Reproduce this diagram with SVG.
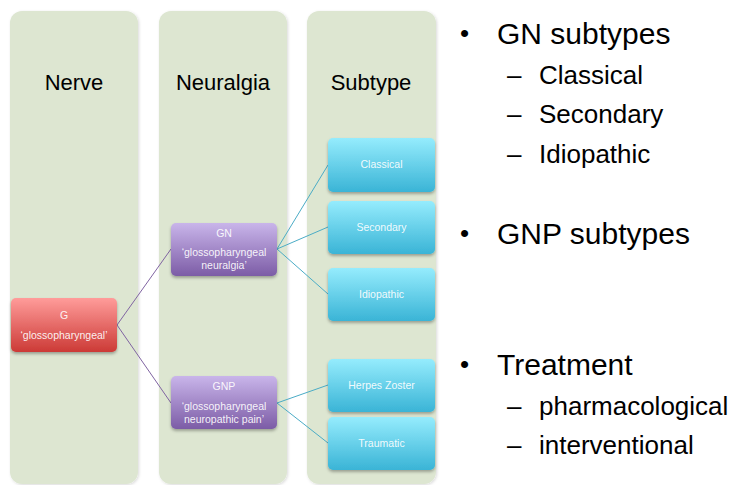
<svg xmlns="http://www.w3.org/2000/svg" width="738" height="485" viewBox="0 0 738 485">
<defs>
<linearGradient id="gRed" x1="0" y1="0" x2="0" y2="1"><stop offset="0" stop-color="#ff9c9a"/><stop offset="1" stop-color="#cc3a36"/></linearGradient>
<linearGradient id="gPur" x1="0" y1="0" x2="0" y2="1"><stop offset="0" stop-color="#c9b5ea"/><stop offset="1" stop-color="#7c5ca6"/></linearGradient>
<linearGradient id="gCyan" x1="0" y1="0" x2="0" y2="1"><stop offset="0" stop-color="#95ecfd"/><stop offset="1" stop-color="#3ab4d6"/></linearGradient>
<filter id="sh" x="-10%" y="-10%" width="130%" height="140%"><feDropShadow dx="0" dy="2" stdDeviation="1.5" flood-color="#000" flood-opacity="0.3"/></filter>
<filter id="csh" x="-5%" y="-5%" width="115%" height="115%"><feDropShadow dx="1" dy="1" stdDeviation="1.5" flood-color="#000" flood-opacity="0.15"/></filter>
</defs>
<style>
.col{fill:#dde6d1;filter:url(#csh)}
.ht{font-family:"Liberation Sans",Arial,sans-serif;font-size:22px;fill:#000;text-anchor:middle}
.box{filter:url(#sh)}
.lb{font-family:"Liberation Sans",Arial,sans-serif;font-size:10.5px;fill:#fff;fill-opacity:0.92;text-anchor:middle}
.cp{stroke:#8064a2;stroke-width:1;fill:none}
.cc{stroke:#4bacc6;stroke-width:1;fill:none}
.b1{font-family:"Liberation Sans",Arial,sans-serif;font-size:30px;fill:#000}
.b2{font-family:"Liberation Sans",Arial,sans-serif;font-size:26px;fill:#000}
.dot{font-family:"Liberation Sans",Arial,sans-serif;font-size:26px;fill:#000}
</style>
<rect width="738" height="485" fill="#fff"/>
<g id="columns">
<g id="col-nerve"><rect class="col" x="10" y="11" width="128" height="473" rx="12"/><text class="ht" x="74" y="90">Nerve</text></g>
<g id="col-neuralgia"><rect class="col" x="159" y="11" width="128" height="473" rx="12"/><text class="ht" x="223" y="90">Neuralgia</text></g>
<g id="col-subtype"><rect class="col" x="307" y="11" width="129" height="473" rx="12"/><text class="ht" x="371" y="90">Subtype</text></g>
</g>
<g id="connectors">
<path class="cp" d="M117 325 L171 249"/>
<path class="cp" d="M117 325 L171 403"/>
<path class="cc" d="M277 249 L328 165"/>
<path class="cc" d="M277 249 L328 227"/>
<path class="cc" d="M277 249 L328 294"/>
<path class="cc" d="M277 403 L328 385"/>
<path class="cc" d="M277 403 L328 443"/>
</g>
<g id="node-g"><rect class="box" x="11" y="298" width="106" height="54" rx="5" fill="url(#gRed)"/><text class="lb" x="64" y="319">G</text><text class="lb" x="64" y="339">‘glossopharyngeal’</text></g>
<g id="node-gn"><rect class="box" x="171" y="223" width="106" height="53" rx="5" fill="url(#gPur)"/><text class="lb" x="224" y="237">GN</text><text class="lb" x="224" y="256">‘glossopharyngeal</text><text class="lb" x="224" y="269">neuralgia’</text></g>
<g id="node-gnp"><rect class="box" x="171" y="376" width="106" height="53" rx="5" fill="url(#gPur)"/><text class="lb" x="224" y="390">GNP</text><text class="lb" x="224" y="410">‘glossopharyngeal</text><text class="lb" x="224" y="423">neuropathic pain’</text></g>
<g id="node-classical"><rect class="box" x="328" y="138" width="107" height="54" rx="5" fill="url(#gCyan)"/><text class="lb" x="381.5" y="168">Classical</text></g>
<g id="node-secondary"><rect class="box" x="328" y="201" width="107" height="53" rx="5" fill="url(#gCyan)"/><text class="lb" x="381.5" y="231">Secondary</text></g>
<g id="node-idiopathic"><rect class="box" x="328" y="268" width="107" height="53" rx="5" fill="url(#gCyan)"/><text class="lb" x="381.5" y="298">Idiopathic</text></g>
<g id="node-herpes"><rect class="box" x="328" y="359" width="107" height="53" rx="5" fill="url(#gCyan)"/><text class="lb" x="381.5" y="389">Herpes Zoster</text></g>
<g id="node-traumatic"><rect class="box" x="328" y="417" width="107" height="53" rx="5" fill="url(#gCyan)"/><text class="lb" x="381.5" y="447">Traumatic</text></g>
<g id="bullets">
<text class="dot" x="460" y="42">•</text><text class="b1" x="497" y="44">GN subtypes</text>
<text class="b2" x="507" y="84">–</text><text class="b2" x="539" y="84">Classical</text>
<text class="b2" x="507" y="123">–</text><text class="b2" x="539" y="123">Secondary</text>
<text class="b2" x="507" y="163">–</text><text class="b2" x="539" y="163">Idiopathic</text>
<text class="dot" x="460" y="242">•</text><text class="b1" x="497" y="244">GNP subtypes</text>
<text class="dot" x="460" y="373">•</text><text class="b1" x="497" y="375">Treatment</text>
<text class="b2" x="507" y="415">–</text><text class="b2" x="539" y="415">pharmacological</text>
<text class="b2" x="507" y="454">–</text><text class="b2" x="539" y="454">interventional</text>
</g>
</svg>
